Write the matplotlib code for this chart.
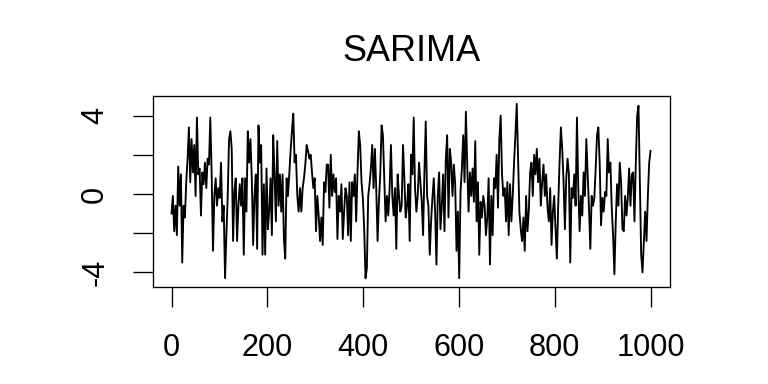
import numpy as np
import matplotlib
matplotlib.use("Agg")
import matplotlib.pyplot as plt

# values, in order, left to right (approximate turning points)
seg1 = [-1.0, -0.1, -1.9, -0.6, -2.1, 1.4, -0.6, 1.0, -3.5, -0.6, -1.2, 0.6, 1.8, 3.4, 0.6,
        2.8, 1.1, 2.5, -0.1, 3.9, 1.0, 1.3, -1.1, 1.1, 0.5, 1.6, 0.3, 1.8, 1.5, 3.9, 1.0,
        -2.9, -0.1, 0.8, -0.6, 0.3, -0.2, 1.6, -1.4, -0.6, -4.3, -2.1, -0.1, 2.8, 3.2, 2.3,
        -2.4, 0.1, 0.8, -2.4, -0.6, 0.5, -0.6, 0.8, -3.1, 0.8, -0.9]
seg2 = [3.2, 1.6, 2.8, 0.8, -2.6, -0.1, 1.0, -2.8, 3.5, 1.6, 2.5, -3.1, 0.5, -3.1, 1.3,
        -1.8, -0.9, 0.8, -2.1, 3.0, 1.0, -1.4, 2.7, -0.6, 1.0, -0.9, 1.0, -2.3, -3.3, 0.8,
        -0.1, 1.0, 2.2, 3.2, 4.1, 1.6, 2.0, -0.1, -0.9, 0.3, -0.9, 0.3, 0.8, 1.5, 2.5, 2.2,
        1.8, 2.0, 1.1, 0.3, 0.8, -1.9, -0.1, -1.1, -2.4, -1.2, -2.6, 0.6, 0.1, 1.5]
seg3 = [1.5, -0.7, 2.0, -0.1, 1.0, 0.1, 0.8, -2.3, -0.1, -0.9, 0.5, -2.3, -0.9, 0.3, -0.1,
        -2.1, 0.6, -2.4, 0.6, -0.1, 1.0, -1.4, 1.1, 3.2, 2.5, 0.6, -0.2, -1.8, -4.3, -3.8,
        -0.1, 0.5, 1.3, 2.5, 0.3, 2.3, 0.3, -2.4, -0.4, 1.0, 3.5, 3.0, 0.8, -1.4, -0.1,
        -1.1, 0.3, 2.5, -0.1, -1.1, 0.3, -2.8, 1.0, -0.1, -0.9, -0.6, 2.5, 0.8, -1.2, -0.6]
seg4 = [0.5, -2.4, 2.0, 1.0, 3.9, 0.3, -0.9, -0.1, 1.6, 0.6, -0.4, -2.1, 1.1, 3.7, -0.1,
        -0.6, -3.1, -1.4, -0.2, 0.8, -0.9, -3.6, -0.1, 1.1, -1.8, -0.6, 1.0, -1.9, 1.8, 3.0,
        -1.2, 2.3, 1.6, -0.1, 1.5, 0.5, -2.9, -0.9, -4.3, 0.1, 1.3, 3.0, 0.6, 4.2, 1.5,
        -0.9, 1.1, -0.1, 1.3, -0.4, 2.7, -1.4, 0.6, -3.1, -0.4, -1.2, -0.1, -0.6, -2.1, -1.2]
seg5 = [0.8, -3.6, -0.1, -2.1, 0.8, 0.3, 2.0, -0.7, 2.8, 4.0, 1.0, -0.1, 0.3, -1.4, 0.6,
        -2.1, 0.5, -1.4, -0.1, 1.6, 3.0, 4.6, 1.8, -0.9, -1.8, -2.4, -1.2, -2.9, -0.1, -1.9,
        -0.9, 1.1, 1.6, -0.1, 2.0, 1.0, 2.3, 0.6, 1.8, -0.6, 0.6, 1.5, -0.1, 1.0, -0.7,
        -1.4, 0.3, -2.6, -0.9, -0.1, -1.8, -3.3, -0.6, 1.6, 3.4, 2.3, 0.6, -1.8, 0.8, 1.8]
seg6 = [1.0, -3.5, 0.3, -0.2, 1.0, -0.6, 3.9, 0.3, -1.9, -0.1, -1.1, 1.1, -0.1, 2.8, 1.0,
        -0.7, -2.8, -0.1, -0.6, -0.2, 1.3, 3.0, 3.4, 1.6, -1.6, -0.2, -0.9, 0.1, -0.1, 2.8,
        1.1, 1.6, -0.7, -2.1, -4.1, -1.4, 0.5, -0.6, 1.6, 0.6, -1.8, -1.9, -0.1, -1.1, -0.2,
        1.3, -0.6, 1.0, 1.1, -1.4, 1.6, 4.0, 4.5, 0.8, -3.1, -4.0, -2.4, -0.9, -2.4, -0.1,
        1.6, 2.2]

y = np.array(seg1 + seg2 + seg3 + seg4 + seg5 + seg6)
t = np.linspace(0, 1000, len(y))

xticks = [0, 200, 400, 600, 800, 1000]
yticks = [-4, -2, 0, 2, 4]
ylabels = ["-4", "", "0", "", "4"]

plt.rcParams['font.family'] = ['Liberation Sans', 'DejaVu Sans']

fig = plt.figure(figsize=(8, 4), dpi=96)
ax = fig.add_axes([0.199, 0.253, 0.673, 0.497])
ax.plot(t, y, color='black', lw=1.4)
ax.set_xlim(-39, 1040)
ax.set_ylim(-4.74, 5.0)
ax.set_xticks(xticks)
ax.set_xticklabels([str(v) for v in xticks])
ax.set_yticks(yticks)
ax.set_yticklabels(ylabels, rotation=90, va='center')
ax.tick_params(direction='out', length=15, width=1.0, labelsize=23)
ax.tick_params(axis='x', pad=19.5)
ax.tick_params(axis='y', pad=17)
for s in ax.spines.values():
    s.set_linewidth(1.0)
ax.set_title("SARIMA", fontsize=27, pad=26.5)

fig.savefig("out.png", dpi=96)
